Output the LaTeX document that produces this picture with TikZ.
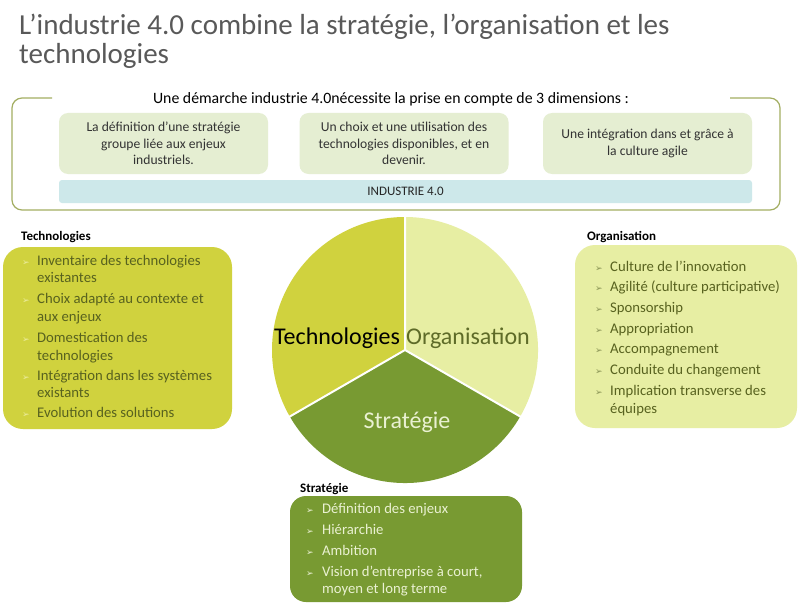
\documentclass[tikz,border=0pt]{standalone}
\usepackage{fontspec}
\setmainfont{Carlito}
\newfontfamily\dejavu{DejaVu Sans}
\definecolor{titlegray}{HTML}{595959}
\definecolor{framecol}{HTML}{A3AE62}
\definecolor{topbox}{HTML}{E5EED2}
\definecolor{barcol}{HTML}{CDE8EA}
\definecolor{techcol}{HTML}{D0D23E}
\definecolor{orgcol}{HTML}{E7EEA3}
\definecolor{stratcol}{HTML}{789A32}
\definecolor{darkolive}{HTML}{58621F}
\definecolor{orgtext}{HTML}{5E6B28}
\definecolor{lighttext}{HTML}{EAF1D2}
\definecolor{bulltech}{HTML}{ECEC9C}
\definecolor{bullorg}{HTML}{8A9455}
\tikzset{
  titletext/.style={anchor=base west, inner sep=0pt, text=titlegray, font=\fontsize{29}{31}\selectfont},
  topboxnode/.style={fill=topbox, rounded corners=9pt, minimum width=209pt, minimum height=61pt, align=center, inner sep=0pt, text=black!80, font=\fontsize{13.6}{16.3}\selectfont},
  sectlabel/.style={anchor=base west, inner sep=0pt, text=black, font=\fontsize{13}{15}\selectfont\bfseries},
  itemtext/.style={anchor=base west, inner sep=0pt, font=\fontsize{14.7}{17}\selectfont},
  bullet/.style={anchor=base west, inner sep=0pt, font=\dejavu\fontsize{9}{10}\selectfont},
  pielabel/.style={anchor=base, inner sep=0pt, font=\fontsize{24}{26}\selectfont},
}
\begin{document}
\begin{tikzpicture}[x=1pt,y=-1pt]
\useasboundingbox[fill=white] (0,0) rectangle (800,607);

% title
\node[titletext] (title1) at (19,35) {L’industrie 4.0 combine la stratégie, l’organisation et les};
\node[titletext] (title2) at (19,64) {technologies};

% frame
\draw[framecol, line width=1.2pt, rounded corners=10pt] (52,98) -- (12,98) -- (12,210) -- (780,210) -- (780,98) -- (730,98);
\node[anchor=base, inner sep=0pt, font=\fontsize{15.8}{17}\selectfont, text=black] (head) at (391,104) {Une démarche industrie 4.0nécessite la prise en compte de 3 dimensions :};

\node[topboxnode] (box1) at (163.5,143.5) {La définition d’une stratégie\\groupe liée aux enjeux\\industriels.};
\node[topboxnode] (box2) at (404,143.5) {Un choix et une utilisation des\\technologies disponibles, et en\\devenir.};
\node[topboxnode] (box3) at (647.5,143.5) {Une intégration dans et grâce à\\la culture agile};
\node[fill=barcol, rounded corners=3pt, minimum width=693pt, minimum height=23pt, inner sep=0pt, font=\fontsize{13}{15}\selectfont, text=black!85] (bar) at (405.5,191.5) {INDUSTRIE 4.0};

% pie
\begin{scope}[shift={(405,350)}, y=1pt]
  \fill[techcol] (0,0) -- (90:133) arc[start angle=90, end angle=210, radius=133] -- cycle;
  \fill[orgcol] (0,0) -- (-30:133) arc[start angle=-30, end angle=90, radius=133] -- cycle;
  \fill[stratcol] (0,0) -- (210:133) arc[start angle=210, end angle=330, radius=133] -- cycle;
  \draw[white, line width=2pt] (0,0) -- (90:134) (0,0) -- (210:134) (0,0) -- (330:134);
\end{scope}
\node[pielabel, text=black] (ptech) at (337,344) {Technologies};
\node[pielabel, text=orgtext] (porg) at (468,344) {Organisation};
\node[pielabel, text=lighttext] (pstrat) at (407,428) {Stratégie};

% left box
\node[sectlabel] (ltech) at (21,240) {Technologies};
\fill[techcol] [rounded corners=20pt] (3,247) rectangle (232,429);
\foreach \yy [count=\i] in {265.5,303.5,342.5,380.5,417.5}
  \node[bullet, text=bulltech] (tb\i) at (22,\yy) {➢};
\begin{scope}[every node/.style={itemtext, text=darkolive}]
\node (t1) at (37,265.5) {Inventaire des technologies};
\node (t1b) at (37,282.5) {existantes};
\node (t2) at (37,303.5) {Choix adapté au contexte et};
\node (t2b) at (37,321) {aux enjeux};
\node (t3) at (37,342.5) {Domestication des};
\node (t3b) at (37,360) {technologies};
\node (t4) at (37,380.5) {Intégration dans les systèmes};
\node (t4b) at (37,397.5) {existants};
\node (t5) at (37,417.5) {Evolution des solutions};
\end{scope}

% right box
\node[sectlabel] (lorg) at (587,240) {Organisation};
\fill[orgcol] [rounded corners=20pt] (575,245) rectangle (797,428);
\foreach \yy [count=\i] in {271.5,291.5,312.5,333.5,353.5,374.5,395.5}
  \node[bullet, text=bullorg] (ob\i) at (595,\yy) {➢};
\begin{scope}[every node/.style={itemtext, text=darkolive}]
\node (o1) at (610,271.5) {Culture de l’innovation};
\node (o2) at (610,291.5) {Agilité (culture participative)};
\node (o3) at (610,312.5) {Sponsorship};
\node (o4) at (610,333.5) {Appropriation};
\node (o5) at (610,353.5) {Accompagnement};
\node (o6) at (610,374.5) {Conduite du changement};
\node (o7) at (610,395.5) {Implication transverse des};
\node (o7b) at (610,413) {équipes};
\end{scope}

% bottom box
\node[sectlabel] (lstrat) at (300,492) {Stratégie};
\fill[stratcol] [rounded corners=16pt] (290,496) rectangle (522,602);
\foreach \yy [count=\i] in {513.5,534.5,555.5,576.5}
  \node[bullet, text=lighttext] (sb\i) at (306,\yy) {➢};
\begin{scope}[every node/.style={itemtext, text=lighttext}]
\node (s1) at (322,513.5) {Définition des enjeux};
\node (s2) at (322,534.5) {Hiérarchie};
\node (s3) at (322,555.5) {Ambition};
\node (s4) at (322,576.5) {Vision d’entreprise à court,};
\node (s4b) at (322,593) {moyen et long terme};
\end{scope}
\end{tikzpicture}
\end{document}
